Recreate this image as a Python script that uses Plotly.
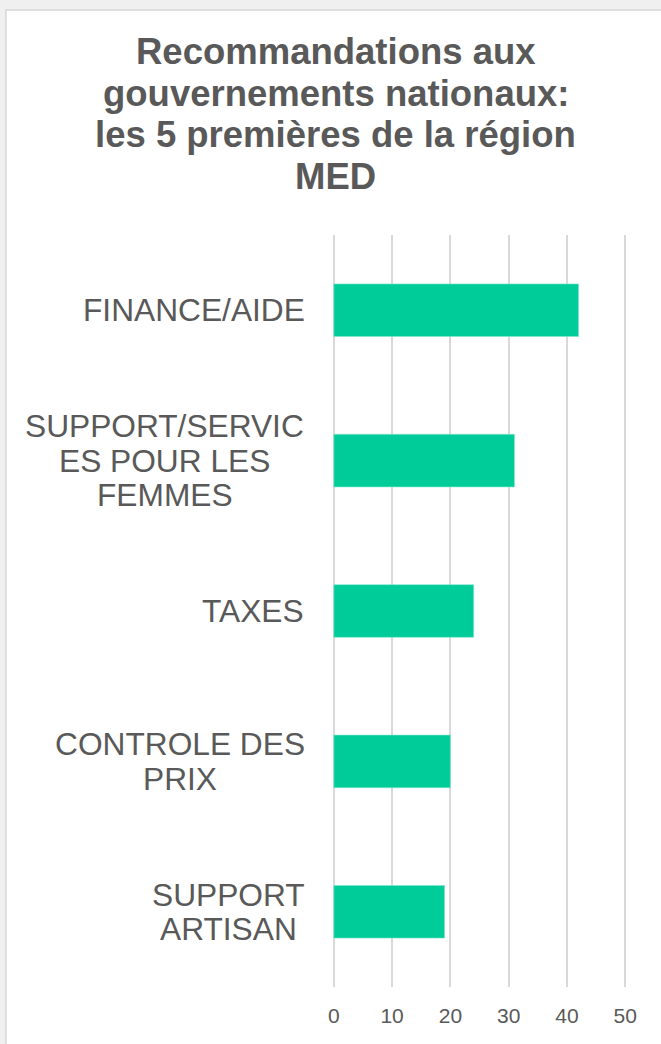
import plotly.graph_objects as go

# ---- data ----
categories = ["FINANCE/AIDE", "SUPPORT/SERVICES POUR LES FEMMES", "TAXES",
              "CONTROLE DES PRIX", "SUPPORT ARTISAN"]
label_lines = [["FINANCE/AIDE"],
               ["SUPPORT/SERVIC", "ES POUR LES", "FEMMES"],
               ["TAXES"],
               ["CONTROLE DES", "PRIX"],
               ["SUPPORT", "ARTISAN"]]
values = [42, 31, 24, 20, 19]
x_ticks = [0, 10, 20, 30, 40, 50]
title_lines = ["Recommandations aux", "gouvernements nationaux:",
               "les 5 premières de la région", "MED"]

# ---- style / layout constants ----
W, H = 661, 1044
X0_PX, X50_PX = 334, 625   # pixel positions of 0 and 50
PAD = 1.0                  # axis-range padding (data units) so edge gridlines show
UNIT = (X50_PX - X0_PX) / 50
PL = X0_PX - PAD * UNIT
PR = X50_PX + PAD * UNIT
PT, PB = 235, 987          # plot top/bottom px
FONT = "Liberation Sans, Arial, sans-serif"
GREY = "#595959"
BAR = "#00CC99"
LABEL_SIZE = 31.7
LINE_GAP = 34.5
TITLE_SIZE = 36.5

def px2x(px):
    return (px - PL) / (PR - PL)

def px2y(py):
    return (PB - py) / (PB - PT)

ARIAL_W = {"A": .667, "C": .722, "D": .722, "E": .667, "F": .611, "I": .278,
           "L": .556, "M": .833, "N": .722, "O": .778, "P": .667, "R": .722,
           "S": .667, "T": .611, "U": .722, "V": .667, "X": .667, "/": .278,
           " ": .278}

def text_w(s, size):
    return sum(ARIAL_W.get(c, .6) for c in s) * size

fig = go.Figure()
fig.add_trace(go.Bar(
    x=values, y=categories, orientation="h",
    marker=dict(color=BAR, line=dict(color="#7fe6cc", width=0.6)),
    width=0.35, hoverinfo="skip",
))

annotations = []
# title lines
for i, t in enumerate(title_lines):
    annotations.append(dict(
        text=f"<b>{t}</b>", xref="paper", yref="paper",
        x=px2x(336), y=px2y(51.5 + i * 41.5), xanchor="center", yanchor="middle",
        showarrow=False, font=dict(family=FONT, size=TITLE_SIZE, color=GREY)))

# category labels (centered lines, block right edge at 305px)
right_edge = 305
for cat, lines in zip(categories, label_lines):
    n = len(lines)
    block_w = max(text_w(l, LABEL_SIZE) for l in lines)
    cx = right_edge - block_w / 2
    for i, l in enumerate(lines):
        annotations.append(dict(
            text=l, xref="paper", yref="y", x=px2x(cx), y=cat,
            xanchor="center", yanchor="middle",
            yshift=((n - 1) / 2 - i) * LINE_GAP,
            showarrow=False, font=dict(family=FONT, size=LABEL_SIZE, color=GREY)))

shapes = [dict(type="rect", xref="paper", yref="paper", layer="below",
               x0=px2x(6.5), x1=px2x(700), y0=px2y(1100), y1=px2y(10),
               fillcolor="white", line=dict(color="#d6d6d6", width=1.5))]

fig.update_layout(
    width=W, height=H,
    margin=dict(l=PL, r=W - PR, t=PT, b=H - PB, pad=0),
    paper_bgcolor="#f0f0f0", plot_bgcolor="white",
    showlegend=False, bargap=0.65,
    annotations=annotations, shapes=shapes,
    xaxis=dict(range=[-PAD, 50 + PAD], tickvals=x_ticks, showgrid=True,
               gridcolor="#d9d9d9", gridwidth=1.5, zeroline=False,
               showline=False, ticks="", ticklabelstandoff=14,
               tickfont=dict(family=FONT, size=21, color=GREY), fixedrange=True),
    yaxis=dict(categoryorder="array", categoryarray=categories[::-1],
               showticklabels=False, showgrid=False, zeroline=False,
               showline=False, ticks="", fixedrange=True),
)

fig.write_html("out.html", config={"displayModeBar": False},
               post_script="document.body.style.margin='0';"
                           "document.documentElement.style.overflow='hidden';")
